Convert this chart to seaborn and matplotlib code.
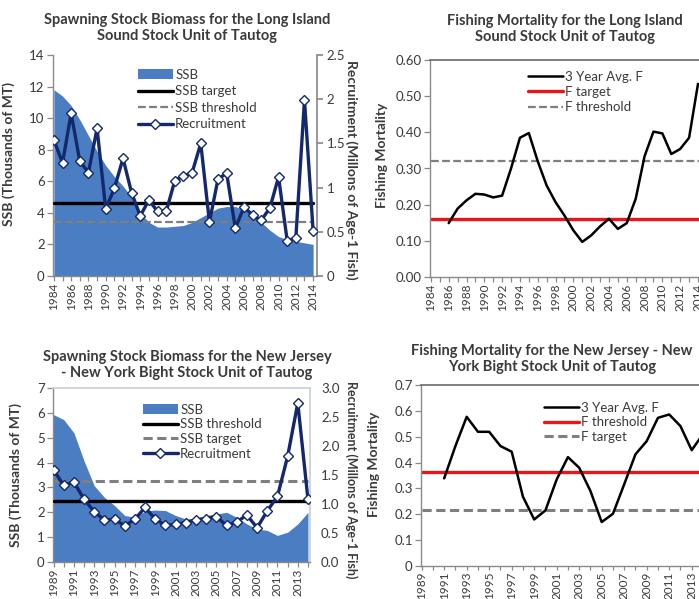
import numpy as np
import pandas as pd
import matplotlib
matplotlib.use("Agg")
import matplotlib.pyplot as plt
import seaborn as sns
from matplotlib.lines import Line2D
from matplotlib.patches import Patch

# ---------------- data ----------------
lis_years = list(range(1984, 2015))
lis_ssb = [11.8, 11.4, 10.8, 9.9, 8.9, 7.9, 7.0, 6.3, 5.7, 5.0, 4.0, 3.4, 3.1, 3.1, 3.15,
           3.2, 3.4, 3.7, 4.0, 4.3, 4.4, 4.4, 4.2, 3.9, 3.4, 2.9, 2.5, 2.3, 2.2, 2.1, 2.0]
lis_recruit = [1.54, 1.28, 1.84, 1.30, 1.17, 1.67, 0.76, 0.99, 1.33, 0.94, 0.68, 0.86, 0.73,
               0.73, 1.08, 1.13, 1.17, 1.50, 0.61, 1.10, 1.16, 0.54, 0.78, 0.69, 0.63, 0.77,
               1.12, 0.40, 0.43, 1.99, 0.51]
lis_ssb_target = 4.6
lis_ssb_threshold = 3.45

lis_f_years = list(range(1986, 2015))
lis_f = [0.149, 0.189, 0.212, 0.230, 0.228, 0.220, 0.225, 0.300, 0.385, 0.398, 0.320, 0.253,
         0.207, 0.170, 0.129, 0.097, 0.115, 0.140, 0.161, 0.133, 0.149, 0.216, 0.334, 0.402,
         0.397, 0.340, 0.354, 0.385, 0.534]
lis_f_target = 0.16
lis_f_threshold = 0.32

nj_years = list(range(1989, 2015))
nj_ssb = [5.93, 5.73, 5.2, 4.07, 3.07, 2.6, 2.27, 1.87, 1.8, 2.05, 2.09, 2.07, 1.87, 1.73,
          1.73, 1.87, 1.93, 2.0, 1.8, 1.53, 1.33, 1.27, 1.07, 1.2, 1.53, 2.0]
nj_recruit = [1.59, 1.32, 1.38, 1.08, 0.87, 0.72, 0.74, 0.62, 0.74, 0.94, 0.74, 0.63, 0.65,
              0.68, 0.73, 0.75, 0.78, 0.63, 0.69, 0.81, 0.59, 0.88, 1.13, 1.82, 2.74, 1.08]
nj_ssb_threshold = 2.44
nj_ssb_target = 3.27

nj_f_years = list(range(1991, 2015))
nj_f = [0.339, 0.464, 0.577, 0.519, 0.519, 0.464, 0.442, 0.268, 0.180, 0.215, 0.335, 0.421,
        0.380, 0.290, 0.170, 0.202, 0.316, 0.432, 0.483, 0.573, 0.586, 0.541, 0.448, 0.510]
nj_f_threshold = 0.365
nj_f_target = 0.215

titles = ["Spawning Stock Biomass for the Long Island\nSound Stock Unit of Tautog",
          "Fishing Mortality for the Long Island\nSound Stock Unit of Tautog",
          "Spawning Stock Biomass for the New Jersey\n- New York Bight Stock Unit of Tautog",
          "Fishing Mortality for the New Jersey - New\nYork Bight Stock Unit of Tautog"]

# ---------------- style ----------------
sns.set_theme(style="ticks")
plt.rcParams["font.family"] = ["Lato", "DejaVu Sans"]
TXT = "#3a3a3a"
SP = "#8a8a8a"
BLUE = "#4a7dc2"
NAVY = "#13296b"
GRAY = "#7f7f7f"
RED = "#e8161b"

W, H = 699, 599
fig = plt.figure(figsize=(W / 100, H / 100), dpi=100)
fig.patch.set_facecolor("white")


def ax_px(l, t, r, b):
    return fig.add_axes([l / W, 1 - b / H, (r - l) / W, (b - t) / H])


def style_axis(ax, years, label_years, ylim, yticks, yfmt, top=False, right=False, boxcolor="#c9d0dc"):
    ax.set_ylim(*ylim)
    ax.set_yticks(yticks)
    ax.set_yticklabels([yfmt(v) for v in yticks])
    ax.set_xticks(years)
    ax.set_xticklabels([str(y) if y in label_years else "" for y in years], rotation=90)
    ax.tick_params(axis="y", colors=SP, labelcolor=TXT, labelsize=9.5, length=4, width=0.9,
                   direction="out", pad=2)
    ax.tick_params(axis="x", colors=SP, labelcolor=TXT, labelsize=8.5, length=3.5, width=0.9,
                   direction="out", pad=1.5)
    for s in ["left", "bottom"]:
        ax.spines[s].set_color(SP)
        ax.spines[s].set_linewidth(1.0)
    ax.spines["top"].set_visible(top)
    ax.spines["right"].set_visible(right)
    ax.spines["top"].set_color(boxcolor if right else "#707070")
    ax.spines["right"].set_color(boxcolor)
    ax.grid(False)
    ax.set_facecolor("none")


# ---------- panel 1: LIS SSB ----------
ax1 = ax_px(53, 55, 317, 276)
ax1.set_xlim(1983.9, 2014.45)
ax1.fill_between(lis_years, lis_ssb, 0, color=BLUE, lw=0, zorder=1)
ax1.plot([lis_years[0], lis_years[-1]], [lis_ssb_target] * 2, color="black", lw=2.4, zorder=3)
ax1.plot([lis_years[0], lis_years[-1]], [lis_ssb_threshold] * 2, color=GRAY, lw=1.6,
         ls=(0, (3.5, 1.5)), zorder=3)
style_axis(ax1, lis_years, lis_years[::2], (0, 14), list(range(0, 15, 2)), lambda v: f"{v:g}")
ax1.set_ylabel("SSB (Thousands of MT)", fontsize=10, fontweight="bold", color=TXT)
ax1.yaxis.set_label_coords(-0.145, 0.55)
ax1r = ax1.twinx()
ax1r.set_xlim(1983.9, 2014.45)
sns.lineplot(x=lis_years, y=lis_recruit, ax=ax1r, color=NAVY, lw=2.4, marker="D", markersize=5.5,
             markerfacecolor="white", markeredgecolor=NAVY, markeredgewidth=1.0, zorder=4)
ax1r.set_ylim(0, 2.5)
ax1r.set_yticks([0, 0.5, 1, 1.5, 2, 2.5])
ax1r.set_yticklabels(["0", "0.5", "1", "1.5", "2", "2.5"])
ax1r.tick_params(axis="y", colors=SP, labelcolor=TXT, labelsize=9.5, length=4, pad=3)
for s in ["top", "left", "bottom"]:
    ax1r.spines[s].set_visible(False)
ax1r.spines["right"].set_color(SP)
ax1r.set_ylabel("Recruitment (Millons of Age-1 Fish)", fontsize=10, fontweight="bold", color=TXT,
                rotation=-90)
ax1r.yaxis.set_label_coords(1.155, 0.48)
ax1r.grid(False)
ax1r.set_zorder(ax1.get_zorder() + 1)

h1 = [Patch(facecolor=BLUE, edgecolor="none"),
      Line2D([], [], color="black", lw=2.4),
      Line2D([], [], color=GRAY, lw=1.6, ls=(0, (3.5, 1.5))),
      Line2D([], [], color=NAVY, lw=2.4, marker="D", markersize=5.5, markerfacecolor="white",
             markeredgecolor=NAVY)]
fig.legend(h1, ["SSB", "SSB target", "SSB threshold", "Recruitment"], loc="upper left",
           bbox_to_anchor=(131 / W, 1 - 62 / H), frameon=False, fontsize=9.5, handlelength=2.7,
           handletextpad=0.15, labelspacing=0.35, borderpad=0, labelcolor=TXT)

# ---------- panel 2: LIS F ----------
ax2 = ax_px(430, 60, 702, 277)
ax2.set_xlim(1983.9, 2014.45)
ax2.plot([lis_years[0], 2014.45], [lis_f_target] * 2, color=RED, lw=2.4, zorder=2)
ax2.plot([lis_years[0], 2014.45], [lis_f_threshold] * 2, color=GRAY, lw=1.6, ls=(0, (3.5, 1.5)), zorder=2)
sns.lineplot(x=lis_f_years, y=lis_f, ax=ax2, color="black", lw=1.8, zorder=3)
style_axis(ax2, lis_years, lis_years[::2], (0, 0.6), [0, 0.1, 0.2, 0.3, 0.4, 0.5, 0.6],
           lambda v: f"{v:.2f}", top=True)
ax2.set_ylabel("Fishing Mortality", fontsize=10, fontweight="bold", color=TXT)
ax2.yaxis.set_label_coords(-0.155, 0.56)
h2 = [Line2D([], [], color="black", lw=1.8), Line2D([], [], color=RED, lw=2.4),
      Line2D([], [], color=GRAY, lw=1.6, ls=(0, (3.5, 1.5)))]
fig.legend(h2, ["3 Year Avg. F", "F target", "F threshold"], loc="upper left",
           bbox_to_anchor=(521 / W, 1 - 64 / H), frameon=False, fontsize=9.5, handlelength=2.7,
           handletextpad=0.15, labelspacing=0.25, borderpad=0, labelcolor=TXT)

# ---------- panel 3: NJ SSB ----------
ax3 = ax_px(53, 388, 310, 562)
ax3.set_xlim(1988.95, 2014.2)
ax3.fill_between(nj_years, nj_ssb, 0, color=BLUE, lw=0, zorder=1)
ax3.plot([nj_years[0], nj_years[-1]], [nj_ssb_threshold] * 2, color="black", lw=2.4, zorder=3)
ax3.plot([nj_years[0], nj_years[-1]], [nj_ssb_target] * 2, color=GRAY, lw=2.2,
         ls=(0, (3.0, 1.5)), zorder=3)
style_axis(ax3, nj_years, nj_years[::2], (0, 7), list(range(0, 8)), lambda v: f"{v:g}",
           top=True, right=True)
ax3.set_ylabel("SSB (Thousands of MT)", fontsize=10, fontweight="bold", color=TXT)
ax3.yaxis.set_label_coords(-0.12, 0.5)
ax3r = ax3.twinx()
ax3r.set_xlim(1988.95, 2014.2)
sns.lineplot(x=nj_years, y=nj_recruit, ax=ax3r, color=NAVY, lw=2.4, marker="D", markersize=5.5,
             markerfacecolor="white", markeredgecolor=NAVY, markeredgewidth=1.0, zorder=4)
ax3r.set_ylim(0, 3.0)
ax3r.set_yticks([0, 0.5, 1, 1.5, 2, 2.5, 3])
ax3r.set_yticklabels([f"{v:.1f}" for v in [0, 0.5, 1, 1.5, 2, 2.5, 3]])
ax3r.tick_params(axis="y", colors="white", labelcolor=TXT, labelsize=9.5, length=0, pad=8)
for s in ["top", "left", "bottom", "right"]:
    ax3r.spines[s].set_visible(False)
ax3r.set_ylabel("Recruitment (Millons of Age-1 Fish)", fontsize=9, fontweight="bold", color=TXT,
                rotation=-90)
ax3r.yaxis.set_label_coords(1.185, 0.47)
ax3r.grid(False)
h3 = [Patch(facecolor=BLUE, edgecolor="none"),
      Line2D([], [], color="black", lw=2.4),
      Line2D([], [], color=GRAY, lw=2.2, ls=(0, (3.0, 1.5))),
      Line2D([], [], color=NAVY, lw=2.4, marker="D", markersize=5.5, markerfacecolor="white",
             markeredgecolor=NAVY)]
fig.legend(h3, ["SSB", "SSB threshold", "SSB target", "Recruitment"], loc="upper left",
           bbox_to_anchor=(136 / W, 1 - 397 / H), frameon=False, fontsize=9.5, handlelength=2.7,
           handletextpad=0.15, labelspacing=0.2, borderpad=0, labelcolor=TXT)

# ---------- panel 4: NJ F ----------
ax4 = ax_px(421, 385, 706, 566)
ax4.set_xlim(1988.94, 2014.27)
ax4.plot([nj_years[0], 2014.27], [nj_f_threshold] * 2, color=RED, lw=2.4, zorder=2)
ax4.plot([nj_years[0], 2014.27], [nj_f_target] * 2, color=GRAY, lw=2.2, ls=(0, (3.0, 1.5)), zorder=2)
sns.lineplot(x=nj_f_years, y=nj_f, ax=ax4, color="black", lw=1.8, zorder=3)
style_axis(ax4, nj_years, nj_years[::2], (0, 0.7), [0, 0.1, 0.2, 0.3, 0.4, 0.5, 0.6, 0.7],
           lambda v: f"{v:g}", top=True)
ax4.tick_params(axis="x", length=3, pad=1)
ax4.set_ylabel("Fishing Mortality", fontsize=10, fontweight="bold", color=TXT)
ax4.yaxis.set_label_coords(-0.145, 0.56)
h4 = [Line2D([], [], color="black", lw=1.8), Line2D([], [], color=RED, lw=2.4),
      Line2D([], [], color=GRAY, lw=2.2, ls=(0, (3.0, 1.5)))]
fig.legend(h4, ["3 Year Avg. F", "F threshold", "F target"], loc="upper left",
           bbox_to_anchor=(537 / W, 1 - 395 / H), frameon=False, fontsize=9.5, handlelength=2.7,
           handletextpad=0.15, labelspacing=0.2, borderpad=0, labelcolor=TXT)

# ---------- titles ----------
for (cx, cy), t in zip([(187, 28), (565, 29), (187, 365), (552, 359)], titles):
    fig.text(cx / W, 1 - cy / H, t, ha="center", va="center", fontsize=10.5, fontweight="bold",
             color=TXT, linespacing=1.25)

fig.savefig("out.png", dpi=100, facecolor="white")
